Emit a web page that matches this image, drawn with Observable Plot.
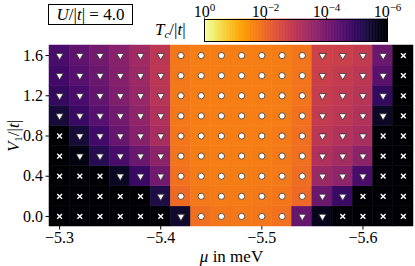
<!DOCTYPE html>
<html><head><meta charset="utf-8">
<script src="https://cdn.jsdelivr.net/npm/d3@7"></script>
<script src="https://cdn.jsdelivr.net/npm/@observablehq/plot@0.6"></script>
<style>
body{margin:0;background:#fff;}
#wrap{position:relative;width:415px;height:266px;overflow:hidden;font-family:"Liberation Serif",serif;color:#000;}
#wrap > *{position:absolute;}
#title{left:48px;top:4px;width:85px;height:21px;box-sizing:border-box;border:1px solid #000;font-size:17px;line-height:19px;text-align:center;white-space:nowrap;}
#cblabel{left:155px;top:22px;font-size:17px;line-height:16px;white-space:nowrap;}
#cblabel sub{font-size:11px;vertical-align:-3px;line-height:0;}
</style></head><body><div id="wrap"><div id="title"><i>U</i>/|<i>t</i>| = 4.0</div><div id="cblabel"><i>T</i><sub><i>c</i></sub>/|<i>t</i>|</div></div>
<script>
// chemical potential μ (meV), column centres
const mu = [-5.30,-5.32,-5.34,-5.36,-5.38,-5.40,-5.42,-5.44,-5.46,-5.48,-5.50,-5.52,-5.54,-5.56,-5.58,-5.60,-5.62,-5.64];
// nearest-neighbour interaction V1/|t|, row centres
const V1 = [0.0,0.2,0.4,0.6,0.8,1.0,1.2,1.4,1.6];
const xTicks = [-5.3,-5.4,-5.5,-5.6];
const yTicks = [0.0,0.4,0.8,1.2,1.6];
const cbTicks = [1,1e-2,1e-4,1e-6];
// phase marker per cell (rows in V1 order): T = triangle, O = circle, X = cross (Tc = 0)
const phase = [
  "XXXXXXTOOOOOTTXXXX",
  "XXXXXTOOOOOOOTTXXX",
  "XXXTTTOOOOOOOTTTXX",
  "XTTTTTOOOOOOOTTTXX",
  "XTTTTTOOOOOOOTTTXX",
  "TTTTTTOOOOOOOTTTTX",
  "TTTTTTOOOOOOOTTTTX",
  "TTTTTTOOOOOOOTTTTX",
  "TTTTTTOOOOOOOTTTTX"
];
// log10(Tc/|t|) per cell (rows in V1 order); null = Tc below range
const log10Tc = [
  [null,null,null,null,null,null,-5.52,-1.90,-1.82,-1.80,-1.82,-1.88,-4.26,-5.70,null,null,null,null],
  [null,null,null,null,null,-5.28,-1.98,-1.78,-1.75,-1.75,-1.76,-1.82,-2.00,-4.20,-4.92,null,null,null],
  [null,null,null,-5.64,-4.92,-4.08,-1.88,-1.74,-1.72,-1.72,-1.74,-1.78,-1.95,-3.48,-3.66,-4.68,null,null],
  [null,-5.82,-5.16,-4.68,-4.20,-3.72,-1.85,-1.72,-1.70,-1.70,-1.72,-1.76,-1.92,-3.18,-3.36,-3.72,null,null],
  [null,-5.40,-4.80,-4.26,-3.78,-3.30,-1.82,-1.70,-1.70,-1.70,-1.70,-1.74,-1.90,-3.00,-3.12,-3.30,null,null],
  [-5.40,-4.92,-4.50,-4.08,-3.66,-3.18,-1.80,-1.70,-1.70,-1.70,-1.70,-1.72,-1.88,-2.88,-3.00,-3.12,-5.58,null],
  [-4.98,-4.68,-4.32,-3.90,-3.54,-3.06,-1.80,-1.70,-1.70,-1.70,-1.70,-1.72,-1.85,-2.82,-2.94,-3.06,-5.00,null],
  [-4.80,-4.50,-4.20,-3.84,-3.48,-3.00,-1.80,-1.70,-1.70,-1.70,-1.70,-1.72,-1.85,-2.76,-2.88,-3.00,-4.44,null],
  [-4.68,-4.38,-4.08,-3.78,-3.42,-3.00,-1.80,-1.70,-1.70,-1.70,-1.70,-1.72,-1.85,-2.70,-2.76,-2.88,-4.20,null]
];

const cells = [];
V1.forEach((v, i) => mu.forEach((m, j) => {
  const l = log10Tc[i][j];
  cells.push({mu: m, V1: v, phase: phase[i][j], tc: l === null ? null : Math.pow(10, l)});
}));

const tcMin = 1e-6;
const color = {type: "log", domain: [tcMin, 1], scheme: "inferno", clamp: true};
const fillOf = d => d.tc === null ? tcMin : d.tc;

const triDown = {draw(ctx, size) {
  const y = Math.sqrt(size / (3 * Math.sqrt(3)));
  const x = Math.sqrt(3) * y;
  ctx.moveTo(0, 2 * y); ctx.lineTo(-x, -y); ctx.lineTo(x, -y); ctx.closePath();
}};

const font = '"Liberation Serif", serif';
const main = Plot.plot({
  width: 415, height: 266,
  marginLeft: 49, marginRight: 2, marginTop: 45, marginBottom: 40,
  style: {fontFamily: font, fontSize: "16px", color: "black", background: "transparent", overflow: "visible"},
  x: {domain: [-5.29, -5.65], ticks: xTicks, tickFormat: d3.format(".1f"), tickSize: 3.5, tickPadding: 2,
      label: "μ in meV", labelAnchor: "center", labelOffset: 35, labelArrow: "none"},
  y: {domain: [-0.1, 1.7], ticks: yTicks, tickFormat: d3.format(".1f"), tickSize: 3.5, tickPadding: 3,
      label: "V1/|t|", labelAnchor: "center", labelOffset: 43, labelArrow: "none"},
  color,
  marks: [
    Plot.rect(cells, {x1: d => d.mu + 0.01, x2: d => d.mu - 0.01, y1: d => d.V1 - 0.1, y2: d => d.V1 + 0.1,
      fill: fillOf, stroke: fillOf, strokeWidth: 0.5, inset: 0}),
    Plot.dot(cells.filter(d => d.phase === "T"), {x: "mu", y: "V1", symbol: triDown, r: 2.7,
      fill: "white", stroke: "#333", strokeWidth: 0.8}),
    Plot.dot(cells.filter(d => d.phase === "O"), {x: "mu", y: "V1", symbol: "circle", r: 3.1,
      fill: "white", stroke: "#333", strokeWidth: 0.8}),
    Plot.dot(cells.filter(d => d.phase === "X"), {x: "mu", y: "V1", symbol: "times", r: 2.3,
      fill: "none", stroke: "white", strokeWidth: 1.4})
  ]
});
main.style.left = "0px"; main.style.top = "0px";

// rich-text axis labels
d3.select(main).selectAll("text").each(function() {
  const t = this.textContent;
  if (t.includes("μ in meV")) {
    const s = d3.select(this); s.text(null).attr("font-size", "17px");
    s.append("tspan").attr("font-style", "italic").text("μ");
    s.append("tspan").text(" in meV");
  } else if (t.includes("V1/|t|")) {
    const s = d3.select(this); s.text(null).attr("font-size", "17px");
    s.append("tspan").attr("font-style", "italic").text("V");
    s.append("tspan").attr("font-size", "11px").attr("dy", "3px").text("1");
    s.append("tspan").attr("dy", "-3px").text("/|");
    s.append("tspan").attr("font-style", "italic").text("t");
    s.append("tspan").text("|");
  }
});

// colour bar drawn with its own log scale
const cbSteps = d3.range(0, -6, -0.05);
const cbar = Plot.plot({
  width: 223, height: 42, marginLeft: 20, marginRight: 20, marginTop: 19, marginBottom: 1,
  style: {fontFamily: font, fontSize: "16px", color: "black", background: "transparent", overflow: "visible"},
  x: {type: "log", domain: [1, 1e-6], axis: "top", ticks: cbTicks, tickSize: 2.5, tickPadding: 0,
      tickFormat: d => "10^" + Math.round(Math.log10(d)), label: null},
  y: {axis: null},
  color,
  marks: [
    Plot.rect(cbSteps, {x1: e => Math.pow(10, e), x2: e => Math.pow(10, e - 0.05),
      fill: e => Math.pow(10, e - 0.025), stroke: e => Math.pow(10, e - 0.025), strokeWidth: 0.6}),
    Plot.frame({stroke: "black", strokeWidth: 1})
  ]
});
cbar.style.left = "184px"; cbar.style.top = "0px";
d3.select(cbar).selectAll("text").each(function() {
  const t = this.textContent;
  if (t.startsWith("10^")) {
    const e = +t.slice(3);
    const s = d3.select(this); s.text(null);
    s.append("tspan").text("10");
    s.append("tspan").attr("font-size", "11px").attr("dy", "-6px").text(e === 0 ? "0" : "−" + Math.abs(e));
  }
});

const wrap = document.getElementById("wrap");
wrap.insertBefore(main, wrap.firstChild);
wrap.appendChild(cbar);
</script>
</body></html>
